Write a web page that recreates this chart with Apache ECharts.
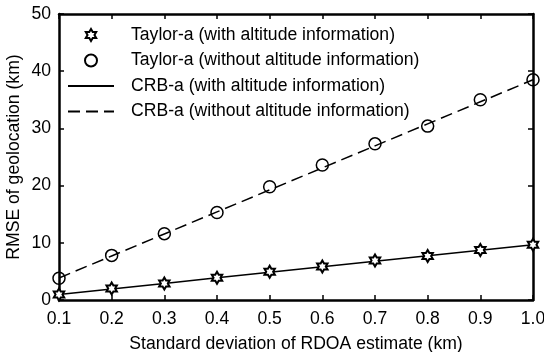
<!DOCTYPE html>
<html>
<head>
<meta charset="utf-8">
<script src="https://cdn.jsdelivr.net/npm/echarts@6/dist/echarts.min.js"></script>
<style>html,body{margin:0;padding:0;background:#fff}#c{width:544px;height:352px}</style>
</head>
<body>
<div id="c"></div>
<script>
const xValues = [0.1, 0.2, 0.3, 0.4, 0.5, 0.6, 0.7, 0.8, 0.9, 1.0];
const taylorWith = [0.95, 2.0, 2.9, 3.9, 4.95, 5.85, 6.9, 7.7, 8.75, 9.65];
const taylorWithout = [3.8, 7.8, 11.6, 15.3, 19.8, 23.6, 27.3, 30.4, 35.0, 38.5];
const crbWith = [0.97, 1.94, 2.9, 3.87, 4.84, 5.8, 6.77, 7.74, 8.7, 9.67];
const crbWithout = [3.85, 7.7, 11.55, 15.4, 19.25, 23.1, 26.95, 30.8, 34.65, 38.5];
const seriesNames = [
  'Taylor-a (with altitude information)',
  'Taylor-a (without altitude information)',
  'CRB-a (with altitude information)',
  'CRB-a (without altitude information)'
];
const xTitle = 'Standard deviation of RDOA estimate (km)';
const yTitle = 'RMSE of geolocation (km)';

const pair = (ys) => xValues.map((x, i) => [x, ys[i]]);
const FONT = "'Liberation Sans', Arial, sans-serif";
const FS = 17.6;
const hexagram = 'path://M50 0 L64.43 25 L93.3 25 L78.87 50 L93.3 75 L64.43 75 L50 100 L35.57 75 L6.7 75 L21.13 50 L6.7 25 L35.57 25 Z';

const axisCommon = {
  type: 'value',
  nameMoveOverlap: false,
  axisLine: { show: true, onZero: false, lineStyle: { color: '#000', width: 2.5 } },
  axisTick: { show: true, inside: true, length: 5, lineStyle: { color: '#000', width: 1.5 } },
  splitLine: { show: false }
};

const chart = echarts.init(document.getElementById('c'), null, { renderer: 'canvas' });
chart.setOption({
  animation: false,
  backgroundColor: '#fff',
  grid: { left: 59, right: 11, top: 14, bottom: 52, containLabel: false, outerBoundsMode: 'none' },
  legend: {
    orient: 'vertical',
    left: 62,
    top: 21,
    itemWidth: 46,
    itemHeight: 12,
    itemGap: 7.5,
    data: [
      { name: seriesNames[0] },
      { name: seriesNames[1] },
      { name: seriesNames[2], itemStyle: { opacity: 0 } },
      { name: seriesNames[3], itemStyle: { opacity: 0 } }
    ],
    textStyle: { fontFamily: FONT, fontSize: FS, color: '#000', lineHeight: 17.5, padding: [0, 0, 0, 12] }
  },
  xAxis: [
    Object.assign({}, axisCommon, {
      position: 'bottom', min: 0.1, max: 1.0, interval: 0.1,
      name: xTitle, nameLocation: 'middle', nameGap: 35,
      nameTextStyle: { fontFamily: FONT, fontSize: FS, color: '#000' },
      axisLabel: { show: true, margin: 10, fontFamily: FONT, fontSize: FS, color: '#000',
        formatter: (v) => v.toFixed(1) }
    }),
    Object.assign({}, axisCommon, {
      position: 'top', min: 0.1, max: 1.0, interval: 0.1,
      axisLabel: { show: false }
    })
  ],
  yAxis: [
    Object.assign({}, axisCommon, {
      position: 'left', min: 0, max: 50, interval: 10,
      name: yTitle, nameLocation: 'middle', nameGap: 36,
      nameTextStyle: { fontFamily: FONT, fontSize: FS, color: '#000' },
      axisLabel: { show: true, margin: 8, fontFamily: FONT, fontSize: FS, color: '#000' }
    }),
    Object.assign({}, axisCommon, {
      position: 'right', min: 0, max: 50, interval: 10,
      axisLabel: { show: false }
    })
  ],
  series: [
    {
      name: seriesNames[2], type: 'line', data: pair(crbWith), symbol: 'none', clip: false,
      lineStyle: { color: '#000', width: 1.5, type: 'solid' }, itemStyle: { color: '#000' }, z: 3
    },
    {
      name: seriesNames[3], type: 'line', data: pair(crbWithout), symbol: 'none', clip: false,
      lineStyle: { color: '#000', width: 1.5, type: [12, 6] }, itemStyle: { color: '#000' }, z: 3
    },
    {
      name: seriesNames[0], type: 'scatter', data: pair(taylorWith), clip: false,
      symbol: hexagram, symbolSize: 12, symbolKeepAspect: true,
      itemStyle: { color: '#fff', borderColor: '#000', borderWidth: 2, opacity: 1 }, z: 5
    },
    {
      name: seriesNames[1], type: 'scatter', data: pair(taylorWithout), clip: false,
      symbol: 'circle', symbolSize: 12,
      itemStyle: { color: 'rgba(0,0,0,0)', borderColor: '#000', borderWidth: 1.5, opacity: 1 }, z: 5
    }
  ]
});
</script>
</body>
</html>
